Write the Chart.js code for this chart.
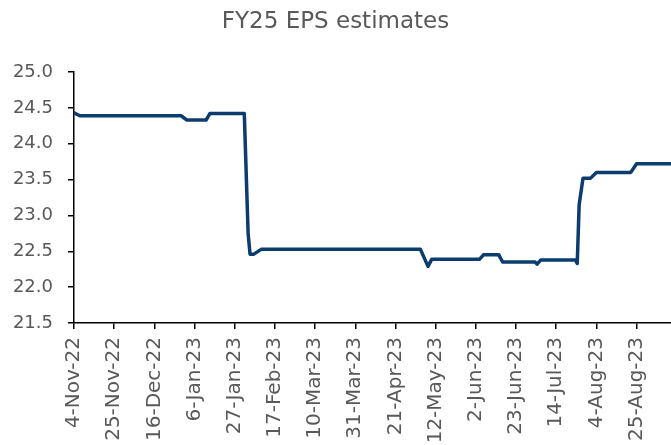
<!DOCTYPE html>
<html>
<head>
<meta charset="utf-8">
<script src="https://cdn.jsdelivr.net/npm/chart.js@4"></script>
<style>
  html, body { margin: 0; padding: 0; background: #fff; }
  #wrap { width: 671px; height: 445px; position: relative; }
</style>
</head>
<body>
<div id="wrap"><canvas id="c" width="671" height="445"></canvas></div>
<script>
// Observation dates (where the estimate level changes)
const dates = ['2022-11-04','2022-11-07','2022-12-30','2023-01-02','2023-01-12','2023-01-14',
  '2023-02-01','2023-02-03','2023-02-04','2023-02-06','2023-02-10','2023-05-04','2023-05-08',
  '2023-05-10','2023-06-04','2023-06-06','2023-06-14','2023-06-16','2023-07-03','2023-07-04',
  '2023-07-06','2023-07-24','2023-07-25','2023-07-26','2023-07-28','2023-08-01','2023-08-04',
  '2023-08-22','2023-08-25','2023-09-12'];
const eps = [24.43,24.39,24.39,24.33,24.33,24.42,
  24.42,22.75,22.46,22.46,22.53,22.53,22.29,
  22.39,22.39,22.45,22.45,22.35,22.35,22.32,
  22.38,22.38,22.33,23.15,23.52,23.52,23.60,
  23.60,23.72,23.72];
const startDate = '2022-11-04';
const endDate = '2023-09-12';
const tickStepDays = 21;
const yTicks = [21.5, 22.0, 22.5, 23.0, 23.5, 24.0, 24.5, 25.0];

const MONTHS = ['Jan','Feb','Mar','Apr','May','Jun','Jul','Aug','Sep','Oct','Nov','Dec'];
const DAY = 86400000;
function toMs(s){ const p = s.split('-').map(Number); return Date.UTC(p[0], p[1]-1, p[2]); }
const t0 = toMs(startDate);
function dayOf(s){ return Math.round((toMs(s) - t0) / DAY); }
function fmt(d){
  const dt = new Date(t0 + d * DAY);
  return dt.getUTCDate() + '-' + MONTHS[dt.getUTCMonth()] + '-' + String(dt.getUTCFullYear()).slice(2);
}
const points = dates.map((d, i) => ({ x: dayOf(d), y: eps[i] }));

const FONT = '"DejaVu Sans", Verdana, sans-serif';
const GREY = '#595959';

new Chart(document.getElementById('c'), {
  type: 'line',
  data: {
    datasets: [{
      data: points,
      borderColor: '#0b3c6d',
      borderWidth: 3.5,
      pointRadius: 0,
      tension: 0,
      borderJoinStyle: 'round',
      borderCapStyle: 'round',
      fill: false
    }]
  },
  options: {
    responsive: false,
    animation: false,
    devicePixelRatio: 1,
    layout: { padding: { top: 0, right: 0, left: 0, bottom: 0 } },
    plugins: {
      legend: { display: false },
      tooltip: { enabled: false },
      title: {
        display: true,
        text: 'FY25 EPS estimates',
        color: GREY,
        font: { family: FONT, size: 23, weight: 'normal', lineHeight: 1.2 },
        padding: { top: 8, bottom: 36.4 }
      }
    },
    scales: {
      x: {
        type: 'linear',
        min: 0,
        max: dayOf(endDate),
        afterFit: (axis) => { axis.height = 122; },
        grid: { display: true, drawOnChartArea: false, drawTicks: true, tickLength: 6, color: '#000', lineWidth: 1.5 },
        border: { display: true, color: '#000', width: 1.5 },
        ticks: {
          stepSize: tickStepDays,
          includeBounds: false,
          autoSkip: false,
          minRotation: 90,
          maxRotation: 90,
          color: GREY,
          padding: 8,
          font: { family: FONT, size: 20 },
          callback: (v) => fmt(v)
        }
      },
      y: {
        min: yTicks[0],
        max: yTicks[yTicks.length - 1],
        afterFit: (axis) => { axis.width = 74; },
        grid: { display: true, drawOnChartArea: false, drawTicks: true, tickLength: 6, color: '#000', lineWidth: 1.5 },
        border: { display: true, color: '#000', width: 1.5 },
        afterBuildTicks: (axis) => { axis.ticks = yTicks.map(v => ({ value: v })); },
        ticks: {
          color: GREY,
          padding: 15,
          font: { family: FONT, size: 18 },
          callback: (v) => Number(v).toFixed(1)
        }
      }
    }
  }
});
</script>
</body>
</html>
